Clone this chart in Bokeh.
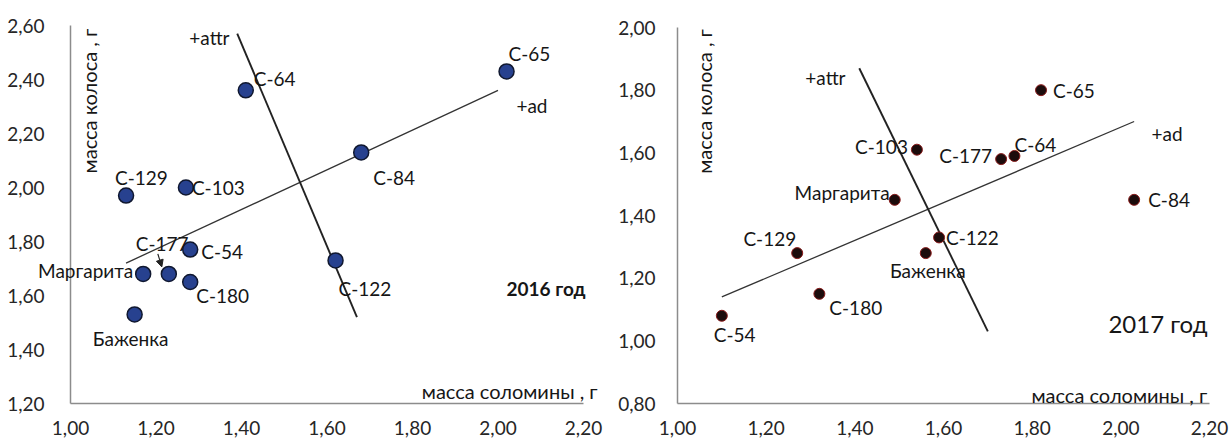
import math
from bokeh.plotting import figure
from bokeh.layouts import row
from bokeh.models import Range1d, Arrow, NormalHead
from bokeh.core.properties import value
from bokeh.embed import file_html
from bokeh.resources import INLINE

# ---------------- data ----------------
x_ticks = [1.0, 1.2, 1.4, 1.6, 1.8, 2.0, 2.2]
x_tick_labels = ["1,00", "1,20", "1,40", "1,60", "1,80", "2,00", "2,20"]
y16_ticks = [1.2, 1.4, 1.6, 1.8, 2.0, 2.2, 2.4, 2.6]
y16_tick_labels = ["1,20", "1,40", "1,60", "1,80", "2,00", "2,20", "2,40", "2,60"]
y17_ticks = [0.8, 1.0, 1.2, 1.4, 1.6, 1.8, 2.0]
y17_tick_labels = ["0,80", "1,00", "1,20", "1,40", "1,60", "1,80", "2,00"]

names16 = ["С-65", "С-64", "С-84", "С-129", "С-103", "С-54", "С-122", "С-177",
           "Маргарита", "С-180", "Баженка"]
straw16 = [2.02, 1.41, 1.68, 1.13, 1.27, 1.28, 1.62, 1.23, 1.17, 1.28, 1.15]
ear16 = [2.43, 2.36, 2.13, 1.97, 2.00, 1.77, 1.73, 1.68, 1.68, 1.65, 1.53]

names17 = ["С-65", "С-103", "С-177", "С-64", "Маргарита", "С-84", "С-122", "С-129",
           "Баженка", "С-180", "С-54"]
straw17 = [1.82, 1.54, 1.73, 1.76, 1.49, 2.03, 1.59, 1.27, 1.56, 1.32, 1.10]
ear17 = [1.80, 1.61, 1.58, 1.59, 1.45, 1.45, 1.33, 1.28, 1.28, 1.15, 1.08]

ad16_x = [1.13, 2.00]
ad16_y = [1.72, 2.36]
attr16_x = [1.39, 1.67]
attr16_y = [2.57, 1.52]
ad17_x = [1.10, 2.03]
ad17_y = [1.14, 1.70]
attr17_x = [1.41, 1.70]
attr17_y = [1.87, 1.03]

# ---------------- layout / style ----------------
# label offsets (pixels, screen: dx right, dy down) and alignment
off16_dx = [2, 8, 12, -11, 6, 11, 3, -33, -10, 6, -4]
off16_dy = [-18, -12, 25, -18, 0, 2, 28, -30, -3, 13, 24]
align16 = ["left", "left", "left", "left", "left", "left", "left", "left",
           "right", "left", "center"]
off17_dx = [12, -9, -9, 0, -5, 14, 7, -1, 2, 10, -8]
off17_dy = [0, -3, -4, -11, -7, 0, 0, -15, 17, 14, 19]
align17 = ["left", "right", "right", "left", "right", "left", "left", "right",
           "center", "left", "left"]

FONT = value("Lato")
TXT = "#161616"
TICK_TXT = "#262626"
AX = "#8c8c8c"
FS = value("19px")
FS_TITLE = value("20px")
HEIGHT = 441


def make_chart(width, frame_left, frame_top, frame_w, frame_h, x_ticks_, y_ticks_,
               x_labels, y_labels, y_label_gap):
    """Whole canvas is the plot frame; axes are drawn as lines and text."""
    x0, x1 = x_ticks_[0], x_ticks_[-1]
    y0, y1 = y_ticks_[0], y_ticks_[-1]
    kx = (x1 - x0) / frame_w          # data units per pixel
    ky = (y1 - y0) / frame_h
    xr = Range1d(x0 - frame_left * kx, x1 + (width - frame_left - frame_w) * kx)
    yr = Range1d(y0 - (HEIGHT - frame_top - frame_h) * ky, y1 + frame_top * ky)
    p = figure(width=width, height=HEIGHT, x_range=xr, y_range=yr,
               x_axis_type=None, y_axis_type=None,
               output_backend="svg", toolbar_location=None,
               min_border=0, min_border_left=0, min_border_right=0,
               min_border_top=0, min_border_bottom=0)
    p.outline_line_color = None
    p.grid.visible = False
    p.background_fill_color = "white"
    p.border_fill_color = "white"
    # axis lines
    p.line([x0, x1], [y0, y0], line_color=AX, line_width=1.5)
    p.line([x0, x0], [y0, y1], line_color=AX, line_width=1.5)
    # tick labels
    p.text(x=x_ticks_, y=[y0] * len(x_ticks_), text=x_labels, y_offset=24,
           text_align="center", text_baseline="middle", text_font=FONT,
           text_font_size=FS, text_color=TICK_TXT)
    p.text(x=[x0] * len(y_ticks_), y=y_ticks_, text=y_labels, x_offset=-y_label_gap,
           text_align="right", text_baseline="middle", text_font=FONT,
           text_font_size=FS, text_color=TICK_TXT)
    return p, kx, ky


def add_label(p, x, y, text, align="left", baseline="middle", size=FS,
              style="normal", angle=0.0):
    p.text(x=[x], y=[y], text=[text], text_align=align, text_baseline=baseline,
           text_font=FONT, text_font_size=size, text_font_style=style,
           text_color=TXT, angle=angle)


# ---------------- 2016 ----------------
p1, kx1, ky1 = make_chart(613, 70, 25, 513, 378, x_ticks, y16_ticks,
                          x_tick_labels, y16_tick_labels, 26)
p1.line(ad16_x, ad16_y, line_color="#333333", line_width=1.3)
p1.line(attr16_x, attr16_y, line_color="#222222", line_width=1.9)
p1.scatter(straw16, ear16, size=15, fill_color="#27418f",
           line_color="#101830", line_width=1.5)
p1.text(x=straw16, y=ear16, text=names16, x_offset=off16_dx, y_offset=off16_dy,
        text_align=align16, text_baseline="middle", text_font=FONT,
        text_font_size=FS, text_color=TXT)
# arrow pointing from the С-177 label to its point
i177 = names16.index("С-177")
p1.add_layout(Arrow(end=NormalHead(size=7, fill_color="#222222", line_color="#222222"),
                    x_start=straw16[i177] - 11 * kx1, y_start=ear16[i177] + 20 * ky1,
                    x_end=straw16[i177] - 7 * kx1, y_end=ear16[i177] + 7 * ky1,
                    line_color="#222222", line_width=1.2))
add_label(p1, 1.372, 2.556, "+attr", align="right")
add_label(p1, 2.043, 2.304, "+ad")
add_label(p1, 2.02, 1.626, "2016 год", style="bold", size=value("19px"))
add_label(p1, 2.233, 1.248, "масса соломины , г", align="right",
          baseline="alphabetic", size=FS_TITLE)
add_label(p1, 1.044, 2.32, "масса колоса , г", align="center", angle=math.pi / 2,
          size=FS_TITLE)

# ---------------- 2017 ----------------
p2, kx2, ky2 = make_chart(619, 64, 27, 532, 376, x_ticks, y17_ticks,
                          x_tick_labels, y17_tick_labels, 22)
p2.line(ad17_x, ad17_y, line_color="#333333", line_width=1.3)
p2.line(attr17_x, attr17_y, line_color="#222222", line_width=1.9)
p2.scatter(straw17, ear17, size=11, fill_color="#1c0c0c",
           line_color="#8a1c1c", line_width=1.0)
p2.text(x=straw17, y=ear17, text=names17, x_offset=off17_dx, y_offset=off17_dy,
        text_align=align17, text_baseline="middle", text_font=FONT,
        text_font_size=FS, text_color=TXT)
add_label(p2, 1.379, 1.840, "+attr", align="right")
add_label(p2, 2.069, 1.662, "+ad")
add_label(p2, 1.972, 1.055, "2017 год", size=value("24px"))
add_label(p2, 2.195, 0.826, "масса соломины , г", align="right",
          baseline="alphabetic", size=FS_TITLE)
add_label(p2, 1.059, 1.764, "масса колоса , г", align="center", angle=math.pi / 2,
          size=FS_TITLE)

layout = row(p1, p2)
open("out.html", "w").write(file_html(layout, INLINE))
